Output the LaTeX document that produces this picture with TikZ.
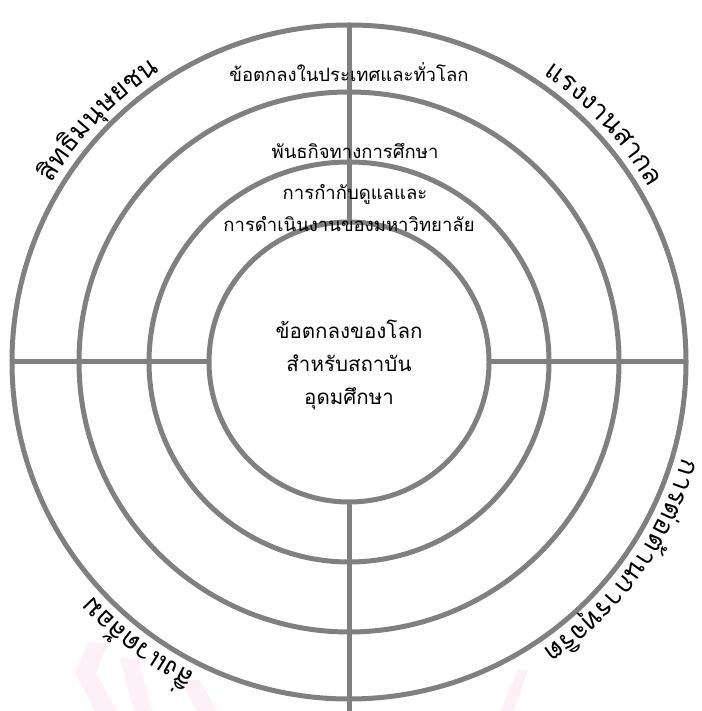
\documentclass[tikz,border=0pt]{standalone}
\usepackage{fontspec}
\newfontfamily\thaifont[Script=Thai]{Loma}
\usetikzlibrary{decorations.text}
\definecolor{ringgray}{HTML}{808080}
\definecolor{wmpink}{HTML}{FDF0F7}
\newcommand\innerfont{\thaifont\fontsize{18.5}{33}\selectfont}
\newcommand\centerfont{\thaifont\fontsize{20.5}{33}\selectfont}
\newcommand\arcfont{\thaifont\fontsize{27}{32}\selectfont}
\begin{document}
\begin{tikzpicture}[x=1pt,y=1pt,
  ring/.style={circle,draw=ringgray,line width=5pt,inner sep=0pt,outer sep=0pt,minimum size=#1},
  spoke/.style={draw=ringgray,line width=5pt},
  label/.style={font=\innerfont,inner sep=0pt,align=center},
  wm/.style={fill=wmpink,draw=none}]
\useasboundingbox (0,0) rectangle (701,711);
% watermark
\fill[wm] (88,68)--(108,68)--(96,38)--(117,0)--(95,0)--(75,38)--cycle;
\fill[wm] (120,52)--(138,52)--(152,0)--(134,0)--cycle;
\fill[wm] (180,31)--(200,31)--(217,0)--(197,0)--cycle;
\fill[wm] (518,41)--(528,41)--(514,0)--(500,0)--cycle;
% rings
\coordinate (O) at (349,349);
\node[ring=674pt] (c1) at (O) {};
\node[ring=540pt] (c2) at (O) {};
\node[ring=400pt] (c3) at (O) {};
\node[ring=280pt] (c4) at (O) {};
\coordinate (bot) at (349,0);
\draw[spoke] (c1.north) -- (c4.north);
\draw[spoke] (c1.west) -- (c4.west);
\draw[spoke] (c4.east) -- (c1.east);
\draw[spoke] (c4.south) -- (bot);
% inner texts
\node[label] (t1) at (349,639) {ข้อตกลงในประเทศและทั่วโลก};
\node[label] (t2) at (355,560) {พันธกิจทางการศึกษา};
\node[label] (t3) at (355,517) {การกำกับดูแลและ};
\node[label] (t4) at (349,487) {การดำเนินงานของมหาวิทยาลัย};
\node[label,font=\centerfont] (t5) at (349,346) {ข้อตกลงของโลก\\สำหรับสถาบัน\\อุดมศึกษา};
% arc texts
\path[decorate,decoration={text along path,text align=center,
  text={|\arcfont|{สิ}{ท}{ธิ}{ม}{นุ}{ษ}{ย}{ช}{น}}}]
  (O) ++(166:347) arc[start angle=166,end angle=106,radius=347];
\path[decorate,decoration={text along path,text align=center,
  text={|\arcfont|{แ}{ร}{ง}{ง}{า}{น}{ส}{า}{ก}{ล}}}]
  (O) ++(73:347) arc[start angle=73,end angle=13,radius=347];
\path[decorate,decoration={text along path,text align=center,
  text={|\arcfont|{ก}{า}{ร}{ต่}{อ}{ต้}{า}{น}{ก}{า}{ร}{ทุ}{จ}{ริ}{ต}}}]
  (O) ++(-4:347) arc[start angle=-4,end angle=-68,radius=347];
\path[decorate,decoration={text along path,text align=center,
  text={|\arcfont|{สิ่}{ง}{แ}{ว}{ด}{ล้}{อ}{ม}}}]
  (O) ++(263:347) arc[start angle=263,end angle=203,radius=347];
\end{tikzpicture}
\end{document}
